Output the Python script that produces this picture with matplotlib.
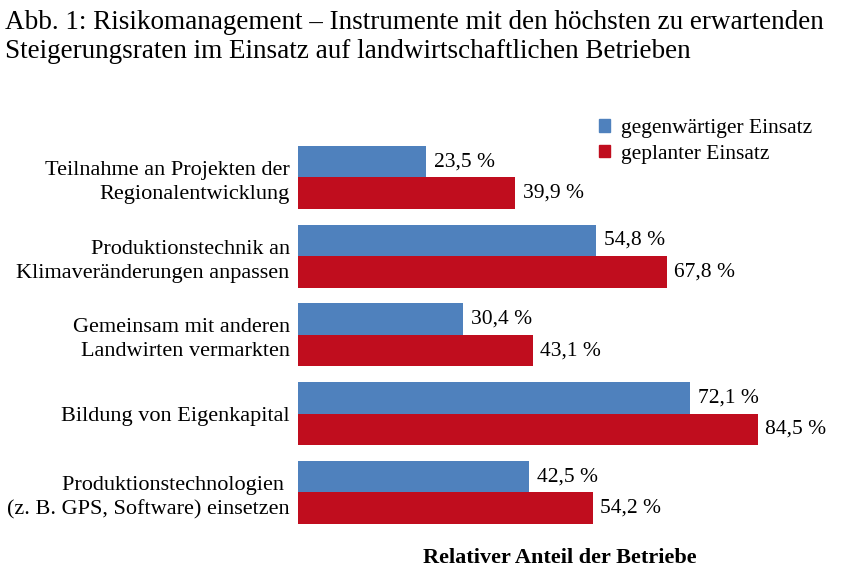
import matplotlib.pyplot as plt
import numpy as np
from matplotlib.patches import Patch

plt.rcParams['font.family'] = ['Liberation Serif', 'DejaVu Serif']

# Daten
kategorien = ['Teilnahme an Projekten der\nRegionalentwicklung',
              'Produktionstechnik an\nKlimaveränderungen anpassen',
              'Gemeinsam mit anderen\nLandwirten vermarkten',
              'Bildung von Eigenkapital',
              'Produktionstechnologien \n(z. B. GPS, Software) einsetzen']
gegenwaertig = [23.5, 54.8, 30.4, 72.1, 42.5]
geplant = [39.9, 67.8, 43.1, 84.5, 54.2]

blau = '#4F81BD'
rot = '#C00D1E'

fig = plt.figure(figsize=(8.42, 5.75), dpi=100)
ax = fig.add_axes([0.354, 0.075, 0.646, 0.685])

y = np.arange(len(kategorien))
h = 0.4
b1 = ax.barh(y - h/2, gegenwaertig, height=h, color=blau)
b2 = ax.barh(y + h/2, geplant, height=h, color=rot)

for bars, werte in ((b1, gegenwaertig), (b2, geplant)):
    for b, w in zip(bars, werte):
        ax.text(w + 1.4, b.get_y() + b.get_height()/2, ('%.1f %%' % w).replace('.', ','),
                va='center', ha='left', fontsize=15.5)

ax.set_xlim(0, 100)
ax.set_ylim(4.5, -0.5)
ax.set_yticks(y)
ax.set_yticklabels(kategorien, fontsize=16, multialignment='right', linespacing=1.35)
ax.tick_params(axis='y', length=0, pad=6)
ax.set_xticks([])
for s in ax.spines.values():
    s.set_visible(False)

ax.legend(handles=[Patch(color=blau, label='gegenwärtiger Einsatz'),
                   Patch(color=rot, label='geplanter Einsatz')],
          loc='upper right', bbox_to_anchor=(0.98, 1.097), frameon=False, fontsize=15.5,
          handlelength=0.5, handleheight=0.5, handletextpad=0.5, labelspacing=0.3)

fig.text(0.006, 0.983, 'Abb. 1: Risikomanagement – Instrumente mit den höchsten zu erwartenden\n'
         'Steigerungsraten im Einsatz auf landwirtschaftlichen Betrieben',
         ha='left', va='top', fontsize=19.5, linespacing=1.22)
fig.text(0.665, 0.03, 'Relativer Anteil der Betriebe', ha='center', va='center',
         fontsize=16, fontweight='bold')

plt.savefig('out.png', dpi=100)
